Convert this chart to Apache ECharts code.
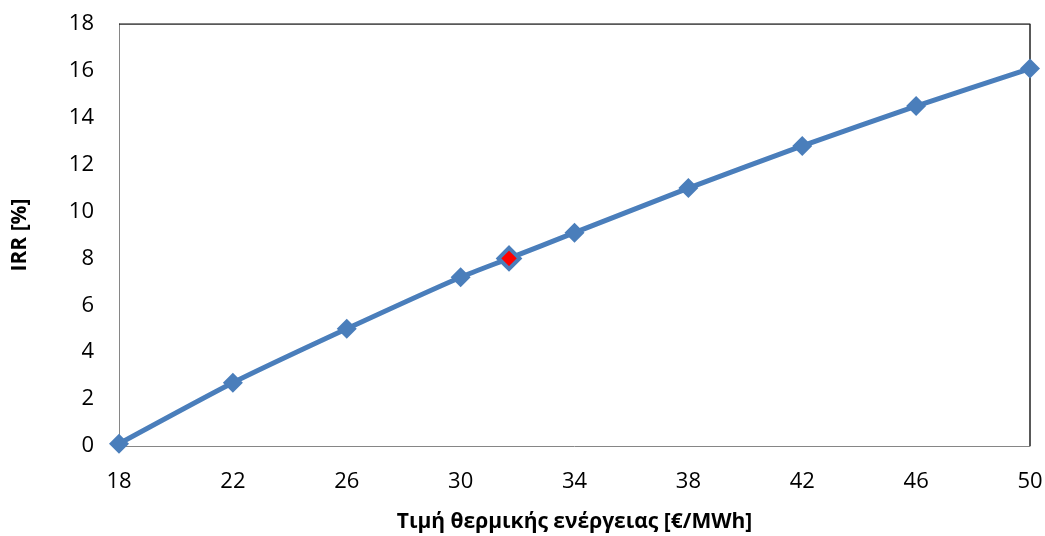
<!DOCTYPE html>
<html>
<head>
<meta charset="utf-8">
<script src="https://cdn.jsdelivr.net/npm/echarts@6/dist/echarts.min.js"></script>
<style>
    html, body { margin: 0; padding: 0; background: #ffffff; }
    #chart { width: 1045px; height: 536px; }
</style>
</head>
<body>
<div id="chart"></div>
<script>
    // price of thermal energy vs IRR
    var prices = [18, 22, 26, 30, 31.7, 34, 38, 42, 46, 50];
    var irr = [0.1, 2.7, 5.0, 7.2, 8.0, 9.1, 11.0, 12.8, 14.5, 16.1];
    var highlightIndex = 4;
    var xTicks = [18, 22, 26, 30, 34, 38, 42, 46, 50];
    var yTicks = [0, 2, 4, 6, 8, 10, 12, 14, 16, 18];

    var points = prices.map(function (p, i) {
        var item = { value: [p, irr[i]] };
        if (i === highlightIndex) {
            item.itemStyle = { color: '#ff0000', borderColor: '#4a7ebb', borderWidth: 4 };
            item.symbolSize = 21;
        }
        return item;
    });

    var fontFam = '"Open Sans", "DejaVu Sans", sans-serif';
    var myChart = echarts.init(document.getElementById('chart'));
    myChart.setOption({
        animation: false,
        grid: { left: 119, right: 15, top: 24, bottom: 90, containLabel: false, outerBoundsMode: 'none' },
        xAxis: {
            type: 'value',
            min: 18,
            max: 50,
            name: 'Τιμή θερμικής ενέργειας [€/MWh]',
            nameLocation: 'middle',
            nameGap: 66,
            nameTextStyle: { fontFamily: fontFam, fontSize: 21, fontWeight: 'bold', color: '#000' },
            axisLine: { show: true, lineStyle: { color: '#868686', width: 1 } },
            axisTick: { show: false },
            splitLine: { show: false },
            axisLabel: {
                customValues: xTicks,
                fontFamily: fontFam, fontSize: 22, color: '#000', margin: 25
            }
        },
        yAxis: {
            type: 'value',
            min: 0,
            max: 18,
            interval: 2,
            name: 'IRR [%]',
            nameLocation: 'middle',
            nameGap: 88,
            nameRotate: 90,
            nameTextStyle: { fontFamily: fontFam, fontSize: 21, fontWeight: 'bold', color: '#000' },
            axisLine: { show: true, lineStyle: { color: '#868686', width: 1 } },
            axisTick: { show: false },
            splitLine: { show: false },
            axisLabel: {
                customValues: yTicks,
                fontFamily: fontFam, fontSize: 22, color: '#000', margin: 25
            }
        },
        series: [
            {
                type: 'line',
                data: points,
                smooth: 0.2,
                symbol: 'diamond',
                symbolSize: 20,
                lineStyle: { color: '#4a7ebb', width: 5 },
                itemStyle: { color: '#4a7ebb' },
                z: 3
            },
            {
                // frame: top and right borders
                type: 'line',
                data: [[18, 18], [50, 18], [50, 0]],
                symbol: 'none',
                silent: true,
                lineStyle: { color: '#222', width: 1.5 },
                z: 1
            }
        ]
    });
</script>
</body>
</html>
